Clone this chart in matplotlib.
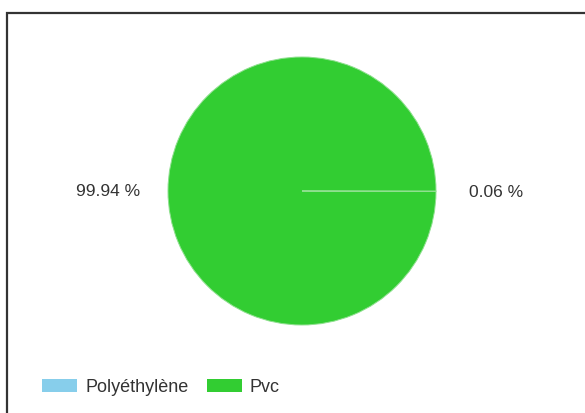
import matplotlib.pyplot as plt
from matplotlib.patches import Rectangle, Patch

labels = ["Polyéthylène", "Pvc"]
values = [0.06, 99.94]
colors = ["#87CEEB", "#32CD32"]

plt.rcParams['font.family'] = ['Liberation Sans', 'DejaVu Sans']

W, H = 585, 414
fig = plt.figure(figsize=(W / 100, H / 100), dpi=100)

# pie centre (302,192) px, radius 134 px
cx, cy, r = 302, 192, 134
ax = fig.add_axes([(cx - r) / W, (H - cy - r) / H, 2 * r / W, 2 * r / H])
ax.pie(values, colors=colors, startangle=0, counterclock=False,
       autopct=lambda p: '%.2f %%' % p, pctdistance=1.45,
       wedgeprops=dict(edgecolor='#8fe08f', linewidth=0.7),
       textprops=dict(fontsize=12.5, color='#333333'))
ax.set_xlim(-1, 1)
ax.set_ylim(-1, 1)
ax.axis('off')

# frame around the chart
fig.add_artist(Rectangle((7 / W, -0.1), 1.1, (H - 14) / H + 0.1,
                         transform=fig.transFigure, fill=False,
                         edgecolor='#333333', linewidth=1.6))

handles = [Patch(facecolor=c, edgecolor='none') for c in colors]
fig.legend(handles, labels, loc='center left', bbox_to_anchor=(42 / W, 1 - 388 / H),
           ncol=2, frameon=False, borderpad=0, borderaxespad=0,
           handlelength=1.95, handleheight=0.75, handletextpad=0.45,
           columnspacing=1.0, prop=dict(size=13),
           labelcolor='#333333')

fig.savefig('out.png', dpi=100)
